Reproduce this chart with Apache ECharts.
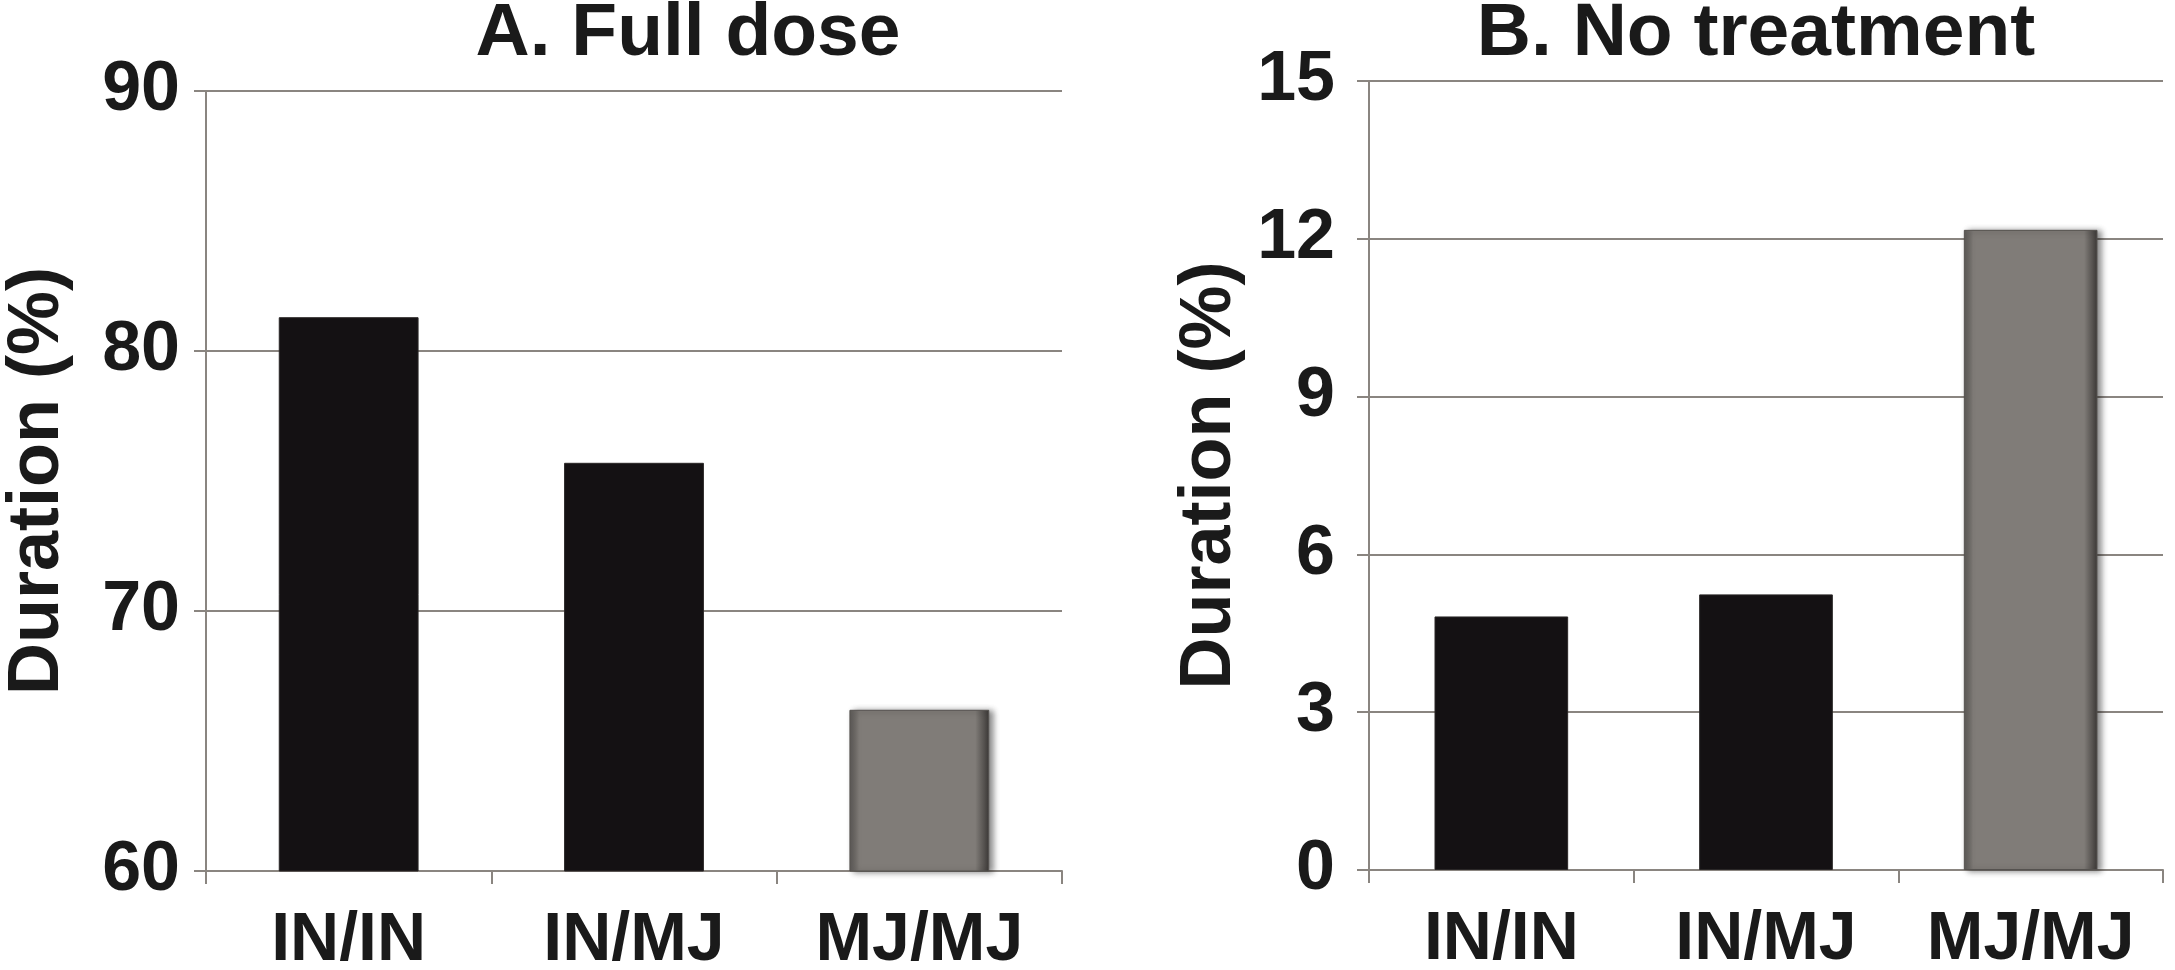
<!DOCTYPE html>
<html>
<head>
<meta charset="utf-8">
<script src="https://cdn.jsdelivr.net/npm/echarts@6/dist/echarts.min.js"></script>
<style>
html,body{margin:0;padding:0;background:#fff;}
#chart{width:2175px;height:970px;}
</style>
</head>
<body>
<div id="chart"></div>
<script>
// ---- data ----
const categories = ['IN/IN', 'IN/MJ', 'MJ/MJ'];
const fullDoseValues = [81.3, 75.7, 66.2];
const noTreatmentValues = [4.82, 5.24, 12.17];
const titleA = 'A. Full dose';
const titleB = 'B. No treatment';
const yAxisName = 'Duration (%)';
const axisARange = { min: 60, max: 90, interval: 10 };
const axisBRange = { min: 0, max: 15, interval: 3 };

// ---- styles ----
const FONT = '"Liberation Sans", Arial, sans-serif';
const TEXT = '#1a1a1a';
const AXIS = '#8a8580';
const blackStyle = { color: '#141113', borderColor: '#2a2727', borderWidth: 1 };
const grayStyle = {
  color: {
    type: 'linear', x: 0, y: 0, x2: 1, y2: 0,
    colorStops: [
      { offset: 0, color: '#5c5956' },
      { offset: 0.07, color: '#807c78' },
      { offset: 0.9, color: '#807c78' },
      { offset: 1, color: '#3c3937' }
    ]
  },
  borderColor: '#55524f', borderWidth: 1,
  shadowColor: 'rgba(0,0,0,0.45)', shadowBlur: 6, shadowOffsetX: 4, shadowOffsetY: 1
};
const itemStyles = [blackStyle, blackStyle, grayStyle];

function barData(values) {
  return values.map((v, i) => ({ value: v, itemStyle: itemStyles[i] }));
}

function xAxis(gridIndex) {
  return {
    type: 'category', gridIndex, data: categories,
    axisLine: { lineStyle: { color: AXIS, width: 2 } },
    axisTick: { show: true, length: 13, lineStyle: { color: AXIS, width: 2 } },
    axisLabel: { interval: 0, hideOverlap: false, color: TEXT, fontFamily: FONT, fontWeight: 'bold', fontSize: 68, margin: 36 }
  };
}
function yAxis(gridIndex, range, labelMargin, nameGap) {
  return {
    type: 'value', gridIndex,
    min: range.min, max: range.max, interval: range.interval,
    name: yAxisName, nameLocation: 'middle', nameGap,
    nameTextStyle: { color: TEXT, fontFamily: FONT, fontWeight: 'bold', fontSize: 72 },
    axisLine: { show: true, lineStyle: { color: AXIS, width: 2 } },
    axisTick: { show: true, length: 12, lineStyle: { color: AXIS, width: 2 } },
    splitLine: { show: true, lineStyle: { color: AXIS, width: 2 } },
    axisLabel: { color: TEXT, fontFamily: FONT, fontWeight: 'bold', fontSize: 70, margin: labelMargin }
  };
}

const chart = echarts.init(document.getElementById('chart'));
chart.setOption({
  backgroundColor: '#fff',
  animation: false,
  title: [
    { text: titleA, left: 683, textAlign: 'center', top: -8,
      textStyle: { color: TEXT, fontFamily: FONT, fontWeight: 'bold', fontSize: 75 } },
    { text: titleB, left: 1751, textAlign: 'center', top: -8,
      textStyle: { color: TEXT, fontFamily: FONT, fontWeight: 'bold', fontSize: 75 } }
  ],
  grid: [
    { left: 206, right: 1113, top: 91, bottom: 99, containLabel: false, outerBoundsMode: 'none' },
    { left: 1369, right: 12, top: 81, bottom: 100, containLabel: false, outerBoundsMode: 'none' }
  ],
  xAxis: [xAxis(0), xAxis(1)],
  yAxis: [yAxis(0, axisARange, 26, 132), yAxis(1, axisBRange, 34, 123)],
  series: [
    { type: 'bar', xAxisIndex: 0, yAxisIndex: 0, data: barData(fullDoseValues), barWidth: '49%' },
    { type: 'bar', xAxisIndex: 1, yAxisIndex: 1, data: barData(noTreatmentValues), barWidth: '50.5%' }
  ]
});
</script>
</body>
</html>
